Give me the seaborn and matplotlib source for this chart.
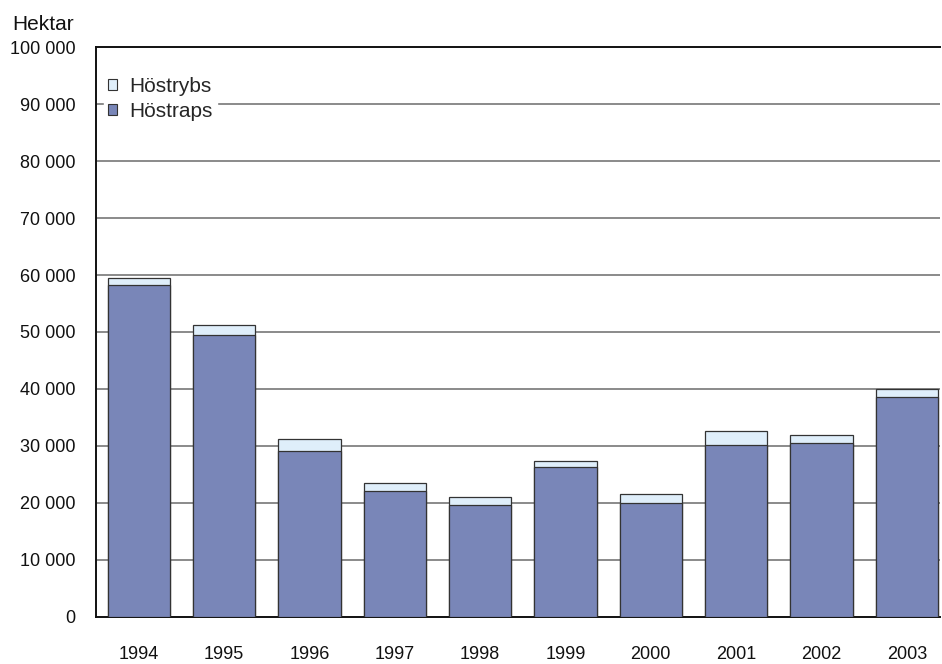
import pandas as pd
import numpy as np
import matplotlib
matplotlib.use("Agg")
import matplotlib.pyplot as plt
import seaborn as sns
from matplotlib.ticker import FuncFormatter
from matplotlib.patches import Patch

# data (hectares)
years = ["1994", "1995", "1996", "1997", "1998", "1999", "2000", "2001", "2002", "2003"]
hostraps = [58300, 49500, 29100, 22100, 19700, 26300, 20000, 30200, 30500, 38600]
hostrybs = [1100, 1800, 2100, 1400, 1400, 1100, 1500, 2400, 1400, 1400]

df = pd.DataFrame({"Year": years, "Höstraps": hostraps, "Höstrybs": hostrybs})
df["Total"] = df["Höstraps"] + df["Höstrybs"]

sns.set_style("white")
plt.rcParams["font.family"] = ["Liberation Sans", "DejaVu Sans"]

raps_col = "#7986b8"
rybs_col = "#dfeefa"
edge = "#333333"

fig = plt.figure(figsize=(9.42, 6.64), dpi=100)
ax = fig.add_axes([0.102, 0.071, 0.896, 0.858])

# gridlines
for v in range(10000, 100000, 10000):
    ax.axhline(v, color="#8a8a8a", lw=1.4, zorder=0)

sns.barplot(data=df, x="Year", y="Total", color=rybs_col, edgecolor=edge,
            linewidth=0.9, width=0.73, saturation=1, ax=ax, zorder=2)
sns.barplot(data=df, x="Year", y="Höstraps", color=raps_col, edgecolor=edge,
            linewidth=0.9, width=0.73, saturation=1, ax=ax, zorder=3)

ax.set_ylim(0, 100000)
ax.set_xlim(-0.5, 9.39)
ax.set_yticks(range(0, 100001, 10000))
ax.yaxis.set_major_formatter(FuncFormatter(lambda v, p: f"{int(v):,}".replace(",", " ")))
ax.set_xlabel("")
ax.set_ylabel("")
ax.tick_params(axis="both", length=0, labelsize=13, colors="#111111")
ax.tick_params(axis="y", pad=15)
ax.tick_params(axis="x", pad=21)

for s in ["left", "bottom", "top"]:
    ax.spines[s].set_color("#111111")
    ax.spines[s].set_linewidth(1.4)
ax.spines["right"].set_visible(False)

handles = [Patch(facecolor=rybs_col, edgecolor=edge, lw=0.8),
           Patch(facecolor=raps_col, edgecolor=edge, lw=0.8)]
leg = ax.legend(handles, ["Höstrybs", "Höstraps"], loc="upper left",
                bbox_to_anchor=(0.0095, 0.955), borderaxespad=0, frameon=True,
                framealpha=1, edgecolor="white", facecolor="white", fontsize=15,
                handlelength=0.4, handleheight=0.4, handletextpad=0.6,
                labelspacing=0.3, borderpad=0.2, fancybox=False)
leg.set_zorder(5)

fig.text(0.0785, 0.955, "Hektar", fontsize=15, color="#111111", ha="right")

fig.savefig("out.png", dpi=100)
